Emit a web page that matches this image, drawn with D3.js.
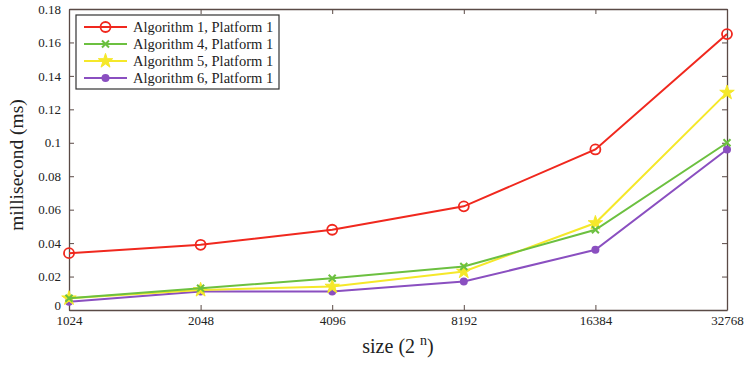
<!DOCTYPE html>
<html>
<head>
<meta charset="utf-8">
<script src="https://cdn.jsdelivr.net/npm/d3@7"></script>
<style>
  body { margin: 0; background: #fff; }
</style>
</head>
<body>
<div id="chart"></div>
<script>
var sizes = [1024, 2048, 4096, 8192, 16384, 32768];
var yTicks = [0, 0.02, 0.04, 0.06, 0.08, 0.1, 0.12, 0.14, 0.16, 0.18];
var seriesNames = ["Algorithm 1, Platform 1", "Algorithm 4, Platform 1", "Algorithm 5, Platform 1", "Algorithm 6, Platform 1"];
var algo1 = [0.034, 0.039, 0.048, 0.062, 0.096, 0.165];
var algo4 = [0.007, 0.013, 0.019, 0.026, 0.048, 0.100];
var algo5 = [0.007, 0.012, 0.014, 0.023, 0.052, 0.130];
var algo6 = [0.005, 0.011, 0.011, 0.017, 0.036, 0.096];
var colors = ["#f0281e", "#6cc040", "#f5e82a", "#8a4fc0"];
var markers = ["circle", "cross", "star", "dot"];

var serif = "'Liberation Serif', 'DejaVu Serif', 'Times New Roman', Times, serif";

var series = [algo1, algo4, algo5, algo6].map(function(vals, i){
    return {name: seriesNames[i], color: colors[i], marker: markers[i],
            values: vals.map(function(v, j){ return {x: sizes[j], y: v}; })};
});

var width = 744, height = 365;
var margin = {top: 9, right: 17, bottom: 55, left: 69};

var svg = d3.select("#chart").append("svg")
    .attr("width", width)
    .attr("height", height)
    .attr("font-family", serif);

var xScale = d3.scaleLog().base(2)
    .domain([1024, 32768])
    .range([margin.left, width - margin.right]);

var yScale = d3.scaleLinear()
    .domain([0, 0.18])
    .range([height - margin.bottom, margin.top]);

var axisColor = "#5a4a46";

// axes (matlab style: ticks inside, box around)
var xAxis = svg.append("g")
    .attr("transform", `translate(0, ${height - margin.bottom})`)
    .call(d3.axisBottom(xScale).tickValues(sizes).tickFormat(d3.format("d")).tickSizeInner(-5).tickSizeOuter(0).tickPadding(6));
var xAxisTop = svg.append("g")
    .attr("transform", `translate(0, ${margin.top})`)
    .call(d3.axisTop(xScale).tickValues(sizes).tickFormat("").tickSizeInner(-5).tickSizeOuter(0));
var yAxis = svg.append("g")
    .attr("transform", `translate(${margin.left}, 0)`)
    .call(d3.axisLeft(yScale).tickValues(yTicks).tickFormat(function(d){ return d3.format("~g")(+d.toFixed(2)); }).tickSizeInner(-5).tickSizeOuter(0).tickPadding(8));
var yAxisRight = svg.append("g")
    .attr("transform", `translate(${width - margin.right}, 0)`)
    .call(d3.axisRight(yScale).tickValues(yTicks).tickFormat("").tickSizeInner(-5).tickSizeOuter(0));

[xAxis, xAxisTop, yAxis, yAxisRight].forEach(function(a){
    a.attr("font-family", serif).attr("font-size", 13);
});

svg.selectAll(".domain").attr("stroke", axisColor).attr("stroke-width", 1.3);
svg.selectAll(".tick line").attr("stroke", axisColor);
svg.selectAll(".tick text").attr("fill", "#222");

// "0" label sits a bit higher in matlab plot
yAxis.selectAll(".tick text").filter(function(d){ return d === 0; }).attr("dy", "-0.05em");

// lines
var line = d3.line()
    .x(function(d){ return xScale(d.x); })
    .y(function(d){ return yScale(d.y); });

function drawMarker(g, type, color) {
    if (type === "circle") {
        g.append("circle").attr("r", 5).attr("fill", "none").attr("stroke", color).attr("stroke-width", 1.8);
    } else if (type === "cross") {
        g.append("path").attr("d", "M-3.5,-3.5L3.5,3.5M-3.5,3.5L3.5,-3.5").attr("stroke", color).attr("stroke-width", 2);
    } else if (type === "star") {
        g.append("path").attr("d", d3.symbol().type(d3.symbolStar).size(65)()).attr("fill", color).attr("stroke", color);
    } else {
        g.append("circle").attr("r", 4).attr("fill", color);
    }
}

var seriesG = svg.selectAll(".series")
    .data(series.slice().reverse())
    .enter()
    .append("g")
    .attr("class", "series");

seriesG.append("path")
    .attr("d", function(d){ return line(d.values); })
    .attr("fill", "none")
    .attr("stroke", function(d){ return d.color; })
    .attr("stroke-width", 2);

seriesG.each(function(s){
    d3.select(this).selectAll(".pt")
        .data(s.values)
        .enter()
        .append("g")
        .attr("transform", function(d){ return `translate(${xScale(d.x)}, ${yScale(d.y)})`; })
        .each(function(){ drawMarker(d3.select(this), s.marker, s.color); });
});

// legend
var legend = svg.append("g").attr("transform", "translate(76, 15)");
legend.append("rect")
    .attr("width", 203)
    .attr("height", 74)
    .attr("fill", "#fff")
    .attr("stroke", "#333")
    .attr("stroke-width", 1.2);

var item = legend.selectAll(".item")
    .data(series)
    .enter()
    .append("g")
    .attr("transform", function(d, i){ return `translate(0, ${12 + i * 17})`; });

item.append("line")
    .attr("x1", 8).attr("x2", 51)
    .attr("stroke", function(d){ return d.color; })
    .attr("stroke-width", 2);
item.append("g")
    .attr("transform", "translate(29.5, 0)")
    .each(function(d){ drawMarker(d3.select(this), d.marker, d.color); });
item.append("text")
    .attr("x", 57)
    .attr("dy", "0.35em")
    .attr("font-family", serif)
    .attr("font-size", 14.5)
    .attr("fill", "#222")
    .text(function(d){ return d.name; });

// axis labels
svg.append("text")
    .attr("transform", "translate(23, 165) rotate(-90)")
    .attr("text-anchor", "middle")
    .attr("font-family", serif)
    .attr("font-size", 19.5)
    .attr("fill", "#222")
    .text("millisecond (ms)");

var xl = svg.append("text")
    .attr("x", 398)
    .attr("y", 353)
    .attr("text-anchor", "middle")
    .attr("font-family", serif)
    .attr("font-size", 20)
    .attr("fill", "#222");
xl.append("tspan").text("size (2 ");
xl.append("tspan").attr("dy", -8).attr("font-size", 14).text("n");
xl.append("tspan").attr("dy", 8).text(")");
</script>
</body>
</html>
